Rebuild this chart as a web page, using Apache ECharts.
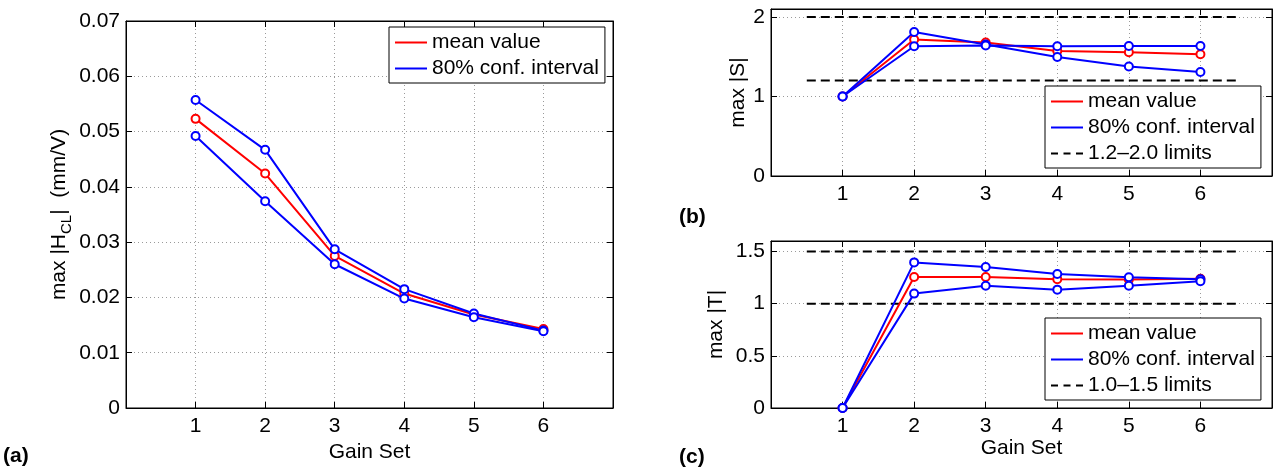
<!DOCTYPE html>
<html><head><meta charset="utf-8">
<script src="https://cdn.jsdelivr.net/npm/echarts@6/dist/echarts.min.js"></script>
<style>html,body{margin:0;padding:0;background:#fff}#c{width:1276px;height:468px}</style>
</head><body><div id="c"></div><script>
// ---- data ----
const gainSets = [1, 2, 3, 4, 5, 6];
const hclMean  = [0.0523, 0.0424, 0.0275, 0.0207, 0.0169, 0.0143];
const hclUpper = [0.0557, 0.0467, 0.0287, 0.0215, 0.0171, 0.0140];
const hclLower = [0.0492, 0.0374, 0.0260, 0.0198, 0.0164, 0.0139];
const sMean  = [1.0, 1.716, 1.678, 1.572, 1.556, 1.531];
const sUpper = [1.0, 1.811, 1.653, 1.497, 1.376, 1.308];
const sLower = [1.0, 1.631, 1.640, 1.631, 1.635, 1.635];
const tMean  = [0, 1.255, 1.255, 1.233, 1.230, 1.239];
const tUpper = [0, 1.395, 1.351, 1.284, 1.252, 1.233];
const tLower = [0, 1.096, 1.172, 1.134, 1.172, 1.214];
const limitsS = [1.2, 2.0];
const limitsT = [1.0, 1.5];
const limitSpan = [0.5, 6.5];
const names = {mean: 'mean value', ci: '80% conf. interval', limS: '1.2–2.0 limits', limT: '1.0–1.5 limits'};
const panelLabels = ['(a)', '(b)', '(c)'];

// ---- styling ----
const FONT = 'Liberation Sans';
const FS = 21;
const RED = '#ff0000', BLUE = '#0000ff';
const gridLine = {show: true, lineStyle: {color: '#9a9a9a', type: [1, 3], width: 1}};
const axisLine = {show: true, onZero: false, lineStyle: {color: '#000', width: 1}};
const tick = {show: true, inside: true, length: 6, lineStyle: {color: '#000'}};
const lbl = {color: '#000', fontFamily: FONT, fontSize: FS};

const grids = [
  {left: 126, top: 21, width: 487, height: 387},
  {left: 771, top: 9, width: 501, height: 167},
  {left: 771, top: 241, width: 501, height: 167}
];

const xAxes = [], yAxes = [];
grids.forEach((g, i) => {
  xAxes.push({
    type: 'value', gridIndex: i, position: 'bottom', min: 0, max: 7, interval: 1,
    axisLine, axisTick: tick, splitLine: gridLine,
    axisLabel: Object.assign({margin: 8, formatter: v => (v >= 1 && v <= 6) ? String(v) : ''}, lbl),
    name: i === 1 ? '' : 'Gain Set', nameLocation: 'middle', nameGap: 29,
    nameTextStyle: {color: '#000', fontFamily: FONT, fontSize: FS}
  });
  xAxes.push({
    type: 'value', gridIndex: i, position: 'top', min: 0, max: 7, interval: 1,
    axisLine, axisTick: tick, splitLine: {show: false}, axisLabel: {show: false}
  });
});

const yCfg = [
  {min: 0, max: 0.07, interval: 0.01, fmt: v => v === 0 ? '0' : v.toFixed(2),
   name: '{a|max |H}{b|CL}{a||  (mm/V)}', gap: 52},
  {min: 0, max: 2.1, interval: 1, fmt: v => Math.abs(v - Math.round(v)) < 1e-9 ? String(Math.round(v)) : '',
   name: '{a|max |S|}', gap: 18},
  {min: 0, max: 1.6, interval: 0.5, fmt: v => Math.abs(v * 2 - Math.round(v * 2)) < 1e-9 ? String(Math.round(v * 2) / 2) : '',
   name: '{a|max |T|}', gap: 40}
];
yCfg.forEach((c, i) => {
  yAxes.push({
    type: 'value', gridIndex: i, position: 'left', min: c.min, max: c.max, interval: c.interval,
    axisLine, axisTick: tick, splitLine: gridLine,
    axisLabel: Object.assign({margin: 6, formatter: c.fmt}, lbl),
    name: c.name, nameLocation: 'middle', nameRotate: 90, nameGap: c.gap,
    nameTextStyle: {
      color: '#000', fontFamily: FONT, fontSize: FS,
      rich: {
        a: {color: '#000', fontFamily: FONT, fontSize: FS, lineHeight: 30, verticalAlign: 'middle'},
        b: {color: '#000', fontFamily: FONT, fontSize: 15, lineHeight: 30, verticalAlign: 'bottom'}
      }
    }
  });
  yAxes.push({
    type: 'value', gridIndex: i, position: 'right', min: c.min, max: c.max, interval: c.interval,
    axisLine, axisTick: tick, splitLine: {show: false}, axisLabel: {show: false}
  });
});

function pts(arr) { return gainSets.map((g, k) => [g, arr[k]]); }
function lineSeries(name, arr, color, gi) {
  return {
    type: 'line', name, xAxisIndex: gi * 2, yAxisIndex: gi * 2, data: pts(arr),
    symbol: 'emptyCircle', symbolSize: 8, showSymbol: true,
    lineStyle: {color, width: 2}, itemStyle: {color, borderColor: color, borderWidth: 1.8},
    emphasis: {disabled: true}
  };
}
function limitSeries(name, y, gi) {
  return {
    type: 'line', name, xAxisIndex: gi * 2, yAxisIndex: gi * 2,
    data: limitSpan.map(x => [x, y]), symbol: 'none',
    lineStyle: {color: '#000', width: 2, type: [9, 5]}, itemStyle: {color: '#000'},
    emphasis: {disabled: true}
  };
}

const series = [
  lineSeries(names.mean, hclMean, RED, 0),
  lineSeries(names.ci, hclUpper, BLUE, 0),
  lineSeries(names.ci, hclLower, BLUE, 0),
  ...limitsS.map(y => limitSeries(names.limS, y, 1)),
  lineSeries(names.mean, sMean, RED, 1),
  lineSeries(names.ci, sUpper, BLUE, 1),
  lineSeries(names.ci, sLower, BLUE, 1),
  ...limitsT.map(y => limitSeries(names.limT, y, 2)),
  lineSeries(names.mean, tMean, RED, 2),
  lineSeries(names.ci, tUpper, BLUE, 2),
  lineSeries(names.ci, tLower, BLUE, 2)
];

const dashIcon = 'path://M0,0h7v2h-7z M12.5,0h7v2h-7z M25,0h7v2h-7z';
function legend(left, top, items) {
  return {
    left, top, orient: 'vertical', itemWidth: 32, itemHeight: 2, itemGap: 5,
    padding: [5, 6, 4, 6], borderColor: '#000', borderWidth: 1, backgroundColor: '#fff',
    selectedMode: false, textStyle: {color: '#000', fontFamily: FONT, fontSize: FS},
    itemStyle: {borderWidth: 0},
    data: items
  };
}
const legends = [
  legend(389, 27, [{name: names.mean, icon: 'rect'}, {name: names.ci, icon: 'rect'}]),
  legend(1045, 86, [{name: names.mean, icon: 'rect'}, {name: names.ci, icon: 'rect'}, {name: names.limS, icon: dashIcon}]),
  legend(1045, 318, [{name: names.mean, icon: 'rect'}, {name: names.ci, icon: 'rect'}, {name: names.limT, icon: dashIcon}])
];

const labelPos = [[3, 446], [679, 207], [679, 447]];
const graphic = panelLabels.map((t, i) => ({
  type: 'text', left: labelPos[i][0], top: labelPos[i][1],
  style: {text: t, fill: '#000', font: 'bold ' + FS + 'px ' + FONT}
}));

const chart = echarts.init(document.getElementById('c'), null, {renderer: 'canvas'});
chart.setOption({
  animation: false,
  backgroundColor: '#fff',
  grid: grids.map(g => Object.assign({show: true, borderColor: '#000', borderWidth: 1, containLabel: false}, g)),
  xAxis: xAxes, yAxis: yAxes, series, legend: legends, graphic
});
</script></body></html>
